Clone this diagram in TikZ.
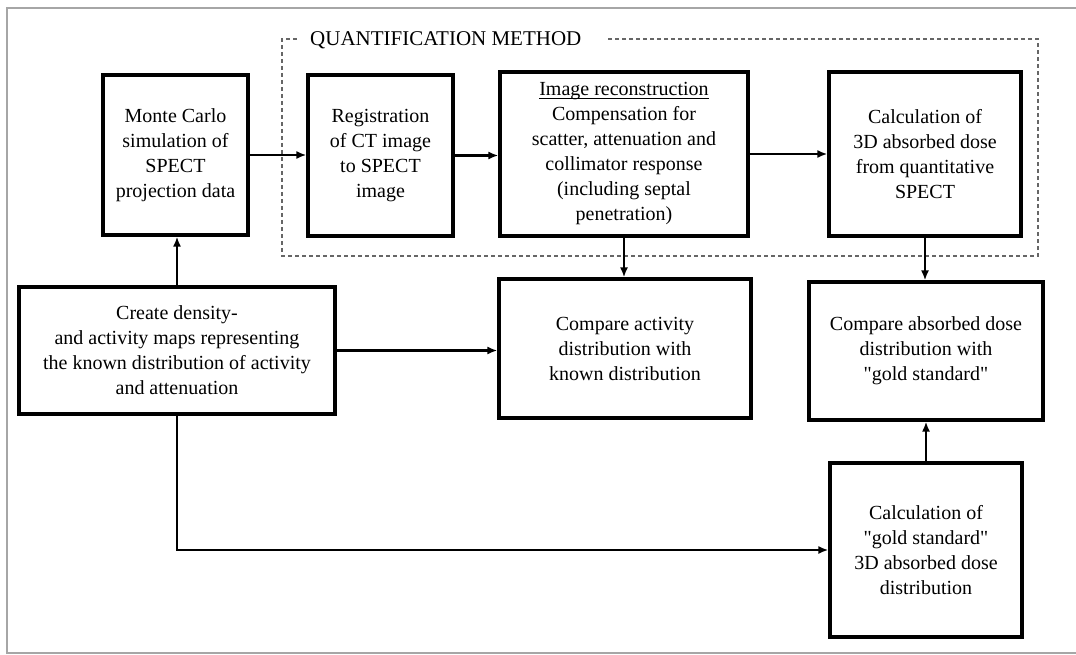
\documentclass[tikz,border=0pt]{standalone}
\usepackage{fontspec}
\setmainfont{Liberation Serif}
\newfontfamily\plainqfont{Liberation Serif}
\usetikzlibrary{arrows.meta}
\newcommand{\sq}{{\plainqfont\symbol{34}}}
\begin{document}
\begin{tikzpicture}[x=1pt,y=-1pt,
  boxnode/.style={draw=black,line width=3.2pt,inner sep=0pt,align=center,
    font=\fontsize{20}{25}\selectfont},
  arr/.style={line width=2.4pt,-{Latex[length=10pt,width=8pt]}},
  dashline/.style={draw=gray!80!black,line width=1.2pt,dash pattern=on 4pt off 3pt}]
\useasboundingbox (0,0) rectangle (1076,655);
\draw[gray!70,line width=1.2pt] (1076,8) -- (7,8) -- (7,653) -- (1076,653);
% boxes
\node[boxnode,minimum width=145pt,minimum height=160pt] (mc) at (175.5,155)
  {Monte Carlo\\simulation of\\SPECT\\projection data};
\node[boxnode,minimum width=145pt,minimum height=161pt] (reg) at (380.5,155.5)
  {Registration\\of CT image\\to SPECT\\image};
\node[boxnode,minimum width=248pt,minimum height=164pt] (rec) at (624,154)
  {\underline{\raisebox{0pt}[\height][1pt]{Image reconstruction}}\\Compensation for\\scatter, attenuation and\\collimator response\\(including septal\\penetration)};
\node[boxnode,minimum width=192pt,minimum height=164pt] (calc) at (925,154)
  {Calculation of\\3D absorbed dose\\from quantitative\\SPECT};
\node[boxnode,minimum width=316pt,minimum height=127pt] (crt) at (177,350.5)
  {Create density-\\and activity maps representing\\the known distribution of activity\\and attenuation};
\node[boxnode,minimum width=252pt,minimum height=139pt] (cmpa) at (625,348.5)
  {Compare activity\\distribution with\\known distribution};
\node[boxnode,minimum width=234pt,minimum height=138pt] (cmpd) at (926,351)
  {Compare absorbed dose\\distribution with\\\sq gold standard\sq};
\node[boxnode,minimum width=192pt,minimum height=174pt] (gold) at (926,550)
  {Calculation of\\\sq gold standard\sq\\3D absorbed dose\\distribution};
% quantification method frame
\node[anchor=west,inner sep=0pt,font=\fontsize{21}{25}\selectfont] (qm) at (310,40) {QUANTIFICATION METHOD};
\coordinate (qa) at (297,39);
\coordinate (qb) at (608,39);
\draw[dashline] (qa) -- (282,39) -- (282,256) -- (1038,256) -- (1038,39) -- (qb);
% connectors
\draw[arr] (crt.north) -- (crt.north |- mc.south);
\draw[arr] (mc.east) -- (reg.west |- mc.east);
\draw[arr] (reg.east) -- (rec.west |- reg.east);
\draw[arr] (rec.east) -- (calc.west |- rec.east);
\draw[arr] (rec.south) -- (rec.south |- cmpa.north);
\draw[arr] (calc.south) -- (calc.south |- cmpd.north);
\draw[arr] (crt.east) -- (crt.east -| cmpa.west);
\draw[arr] (crt.south) -- (crt.south |- gold.west) -- (gold.west);
\draw[arr] (gold.north) -- (gold.north |- cmpd.south);
\end{tikzpicture}
\end{document}
